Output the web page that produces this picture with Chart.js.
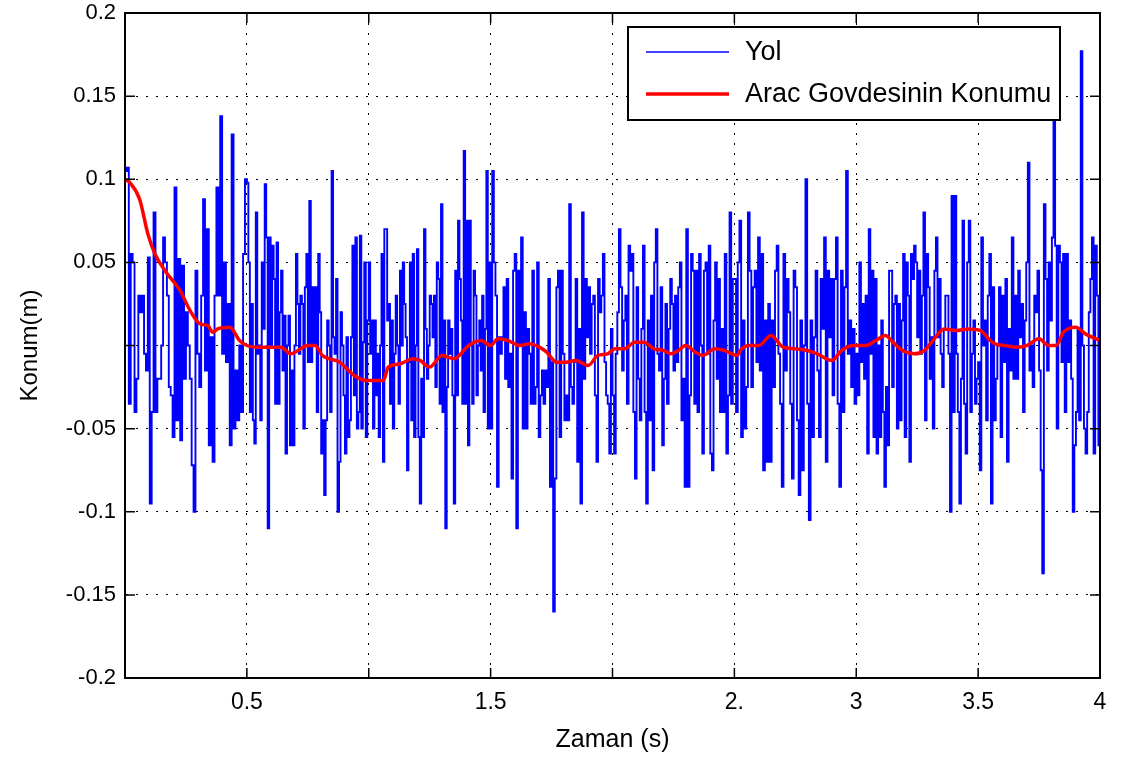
<!DOCTYPE html>
<html>
<head>
<meta charset="utf-8">
<script src="https://cdn.jsdelivr.net/npm/chart.js@4.4.1/dist/chart.umd.min.js"></script>
<style>
  body { margin: 0; background: #fff; }
  #wrap { width: 1142px; height: 764px; position: relative; }
</style>
</head>
<body>
<div id="wrap"><canvas id="myChart"></canvas></div>
<script>
// Yol (road) signal in half-second pieces
const yolSeg1 = [0.105, 0.107, -0.035, 0.055, 0.05, -0.04, -0.02, 0.03, 0.02, 0.03, -0.005, -0.015, 0.053, -0.095, -0.04, 0.08, -0.04, -0.02, -0.02, 0.0, 0.065, 0.05, 0.03, -0.025, -0.03, -0.055, 0.095, -0.045, 0.052, -0.057, 0.048, -0.02, 0.02, 0.0, -0.02, -0.072, -0.1, 0.045, -0.005, -0.025, 0.03, 0.088, -0.015, 0.07, -0.06, 0.005, -0.07, 0.03, 0.095, 0.03, 0.138, -0.005, 0.05, -0.01, 0.025, -0.06, 0.127, -0.05, -0.015, -0.045, 0.0, -0.04, 0.055, 0.1];
const yolSeg2 = [0.098, 0.05, -0.04, 0.025, -0.045, -0.059, 0.08, -0.005, 0.0, -0.045, 0.05, 0.01, 0.097, 0.065, -0.11, 0.065, 0.0, 0.06, 0.04, -0.035, 0.062, -0.035, 0.02, 0.045, -0.015, 0.018, -0.065, 0.0, 0.018, -0.06, -0.015, -0.06, 0.0, 0.055, 0.025, -0.005, 0.03, 0.025, -0.05, 0.035, 0.055, -0.01, 0.087, -0.01, 0.035, 0.0, 0.035, -0.04, 0.055, 0.02, -0.065, -0.045, -0.09, -0.045, 0.015, 0.0, -0.04, 0.105, 0.005, -0.005, 0.04, -0.1, -0.07, 0.02, 0.0, -0.03, -0.065, 0.005, -0.055, -0.045, 0.005, 0.06, -0.03, 0.065, -0.05, -0.04, 0.066, -0.05, 0.002, 0.05, -0.055, 0.015];
const yolSeg3 = [0.05, -0.005, 0.015, -0.05, 0.015, -0.03, -0.005, -0.055, 0.0, 0.055, -0.07, 0.07, 0.07, 0.015, 0.025, -0.035, 0.015, -0.05, -0.005, 0.03, 0.0, -0.035, 0.045, 0.0, 0.05, 0.025, 0.005, -0.075, -0.01, 0.05, -0.045, 0.055, -0.055, 0.0, 0.058, -0.055, -0.095, -0.02, -0.055, 0.07, 0.01, -0.02, 0.0, 0.03, 0.025, 0.005, 0.03, -0.025, 0.05, 0.04, -0.035, 0.085, -0.04, 0.015, -0.11, -0.025, 0.015, -0.005, 0.01, -0.03, -0.095, 0.045, -0.03, 0.075, 0.04, 0.015, -0.035, 0.117, -0.035, 0.075, -0.06, 0.075, 0.0, -0.035, 0.045, 0.03, -0.03, 0.0, 0.015, -0.015, 0.03, -0.04, 0.01, 0.105, -0.05, 0.05];
const yolSeg4 = [-0.05, 0.105, 0.05, 0.03, -0.085, 0.005, -0.005, 0.005, 0.035, -0.02, 0.04, -0.025, -0.005, -0.08, 0.045, 0.055, -0.11, 0.045, 0.0, 0.065, -0.05, 0.02, -0.05, 0.01, -0.005, -0.035, 0.045, -0.035, -0.025, 0.05, -0.055, -0.03, -0.015, -0.035, -0.015, -0.025, 0.04, -0.085, -0.01, -0.16, -0.08, 0.035, 0.045, -0.055, 0.045, -0.005, -0.045, -0.03, -0.045, 0.085, -0.025, -0.035, -0.01, 0.04, -0.07, 0.01, -0.095, 0.08, -0.02, 0.04, 0.005, 0.035, -0.005, 0.025, 0.03, -0.03, -0.07, 0.04, 0.02, 0.03, 0.055, -0.01, -0.03, -0.035, -0.065, 0.01];
const yolSeg5 = [-0.03, -0.065, -0.005, 0.02, 0.07, 0.035, -0.015, 0.015, 0.03, -0.035, 0.06, 0.045, 0.055, -0.04, -0.08, 0.035, -0.02, -0.045, 0.01, 0.06, -0.04, -0.095, 0.015, -0.045, 0.03, -0.075, 0.05, 0.07, -0.005, -0.015, 0.035, -0.06, -0.02, 0.025, -0.035, 0.01, 0.04, 0.025, -0.015, 0.03, -0.01, 0.035, 0.05, -0.045, -0.02, -0.085, 0.07, -0.085, -0.03, 0.055, 0.045, -0.035, 0.045, -0.04, 0.055, 0.0, -0.065, 0.045, 0.05, -0.005, 0.06, -0.065, -0.075, 0.015, 0.05, -0.02, 0.04, -0.04, 0.01, -0.04, 0.055, -0.065, -0.03, 0.08, -0.035, 0.04];
const yolSeg6 = [0.04, -0.04, 0.05, 0.075, -0.055, 0.015, -0.05, -0.025, 0.08, 0.045, -0.025, 0.035, 0.045, -0.01, 0.065, -0.015, 0.055, -0.075, 0.015, -0.07, 0.025, -0.07, 0.015, -0.025, 0.045, 0.06, -0.005, -0.035, -0.085, 0.055, -0.015, 0.04, 0.02, -0.035, -0.08, 0.045, 0.035, -0.045, -0.09, 0.015, -0.075, 0.0, 0.1, -0.035, -0.105, 0.015, -0.055, 0.005, 0.045, -0.015, -0.055, 0.04, 0.01, 0.065, -0.07, 0.045, 0.005, 0.04, -0.03, 0.04, 0.065, -0.035, -0.085, 0.045, -0.04, 0.035, 0.105, -0.005, 0.015, -0.025, 0.01, -0.035];
const yolSeg7 = [-0.005, -0.03, 0.05, -0.01, 0.025, -0.02, 0.03, -0.065, 0.07, -0.005, 0.045, -0.055, 0.04, -0.065, 0.0, -0.055, 0.015, -0.04, -0.085, -0.025, -0.06, 0.045, 0.045, -0.025, 0.025, 0.03, -0.05, 0.025, -0.045, 0.015, 0.055, -0.055, 0.05, 0.03, -0.07, 0.055, 0.04, 0.06, 0.05, 0.005, 0.045, -0.005, 0.03, 0.08, -0.045, 0.055, 0.035, -0.02, 0.005, -0.05, 0.045, 0.065, 0.005, 0.04, -0.005, -0.025, 0.01, 0.03, 0.03, -0.005, -0.1, 0.09, -0.04, 0.09, -0.005, -0.04, -0.095, -0.02, 0.075, -0.035, -0.065, 0.05, 0.075, -0.04, -0.005, 0.015, -0.035, -0.02];
const yolSeg8 = [-0.01, -0.075, 0.065, 0.0, 0.015, -0.045, 0.03, 0.055, -0.095, 0.035, -0.045, -0.02, 0.0, 0.035, -0.055, 0.03, -0.01, 0.04, -0.07, 0.01, -0.015, 0.065, -0.02, 0.03, -0.02, 0.045, 0.005, 0.025, -0.04, 0.015, 0.05, 0.11, -0.015, 0.0, -0.025, 0.03, 0.02, 0.045, -0.015, -0.075, -0.137, 0.085, 0.04, -0.015, 0.05, 0.015, 0.065, 0.16, 0.06, -0.05, 0.06, 0.05, -0.01, 0.055, -0.04, 0.055, -0.01, 0.015, -0.02, -0.1, -0.06, -0.04, 0.01, -0.045, 0.177, 0.0, -0.05, -0.065, -0.04, 0.02, 0.04, 0.065, -0.065, 0.06, 0.03, -0.06];
const segDuration = 0.5;

// Arac Govdesinin Konumu (body position)
const govdeTime = [0, 0.02, 0.06, 0.094, 0.123, 0.164, 0.226, 0.267, 0.308, 0.34, 0.36, 0.38, 0.43, 0.47, 0.5, 0.55, 0.6, 0.64, 0.68, 0.75, 0.78, 0.81, 0.88, 0.94, 0.99, 1.06, 1.08, 1.13, 1.18, 1.21, 1.25, 1.3, 1.35, 1.41, 1.46, 1.5, 1.53, 1.57, 1.62, 1.66, 1.7, 1.73, 1.77, 1.81, 1.85, 1.9, 1.94, 1.98, 2.01, 2.05, 2.09, 2.13, 2.17, 2.21, 2.24, 2.27, 2.3, 2.34, 2.37, 2.42, 2.46, 2.51, 2.53, 2.56, 2.6, 2.65, 2.7, 2.75, 2.8, 2.84, 2.9, 2.94, 2.99, 3.04, 3.08, 3.12, 3.15, 3.19, 3.24, 3.28, 3.32, 3.36, 3.41, 3.46, 3.51, 3.55, 3.57, 3.61, 3.66, 3.7, 3.75, 3.79, 3.82, 3.85, 3.9, 3.94, 4.0];
const govdeValue = [0.1, 0.098, 0.088, 0.067, 0.055, 0.045, 0.033, 0.021, 0.013, 0.012, 0.008, 0.01, 0.011, 0.003, 0.0, -0.001, -0.001, -0.001, -0.005, 0.0, 0.0, -0.006, -0.01, -0.018, -0.021, -0.021, -0.013, -0.011, -0.008, -0.009, -0.013, -0.006, -0.008, 0.0, 0.003, 0.0, 0.004, 0.003, 0.0, 0.001, -0.001, -0.004, -0.01, -0.01, -0.009, -0.012, -0.006, -0.005, -0.002, -0.002, 0.002, 0.002, -0.002, -0.003, -0.005, -0.003, 0.0, -0.004, -0.006, -0.002, -0.003, -0.006, -0.002, 0.0, 0.0, 0.006, -0.001, -0.002, -0.003, -0.005, -0.009, -0.003, 0.0, 0.0, 0.003, 0.006, 0.002, -0.003, -0.005, -0.003, 0.004, 0.01, 0.009, 0.01, 0.009, 0.003, 0.001, 0.0, -0.001, 0.0, 0.004, 0.0, 0.0, 0.008, 0.011, 0.007, 0.003];

const xTickLabels = ["", "0.5", "", "1.5", "", "2.", "3", "3.5", "4"];
const yTickLabels = ["-0.2", "-0.15", "-0.1", "-0.05", "", "0.05", "0.1", "0.15", "0.2"];
const seriesNames = ["Yol", "Arac Govdesinin Konumu"];
const seriesColors = ["#0000ff", "#ff0000"];

const FONT = '"Liberation Sans", Arial, sans-serif';

const yolPoints = [];
[yolSeg1, yolSeg2, yolSeg3, yolSeg4, yolSeg5, yolSeg6, yolSeg7, yolSeg8].forEach((seg, k) => {
  seg.forEach((v, i) => {
    yolPoints.push({ x: k * segDuration + (i * segDuration) / seg.length, y: v });
  });
});
yolPoints.push({ x: 4, y: yolSeg8[yolSeg8.length - 1] });

const govdePoints = govdeTime.map((t, i) => ({ x: t, y: govdeValue[i] }));

// box, inward ticks and the opaque legend, like the matlab figure
const matlabFrame = {
  id: "matlabFrame",
  afterDatasetsDraw(chart) {
    const { ctx, chartArea: a, scales } = chart;
    ctx.save();
    ctx.strokeStyle = "#000";
    ctx.lineWidth = 1.5;
    ctx.beginPath();
    scales.x.ticks.forEach((t) => {
      const px = scales.x.getPixelForValue(t.value);
      ctx.moveTo(px, a.bottom);
      ctx.lineTo(px, a.bottom - 10);
      ctx.moveTo(px, a.top);
      ctx.lineTo(px, a.top + 10);
    });
    scales.y.ticks.forEach((t) => {
      const py = scales.y.getPixelForValue(t.value);
      ctx.moveTo(a.left, py);
      ctx.lineTo(a.left + 10, py);
      ctx.moveTo(a.right, py);
      ctx.lineTo(a.right - 10, py);
    });
    ctx.stroke();
    ctx.lineWidth = 2;
    ctx.strokeRect(a.left, a.top, a.right - a.left, a.bottom - a.top);

    // legend
    const lx = a.right - 472;
    const ly = a.top + 14;
    const lw = 432;
    const lh = 93;
    ctx.fillStyle = "#fff";
    ctx.fillRect(lx, ly, lw, lh);
    ctx.strokeRect(lx, ly, lw, lh);
    ctx.font = "27px " + FONT;
    ctx.textBaseline = "middle";
    ctx.fillStyle = "#000";
    seriesNames.forEach((name, i) => {
      const rowY = ly + 25 + i * 42;
      ctx.strokeStyle = seriesColors[i];
      ctx.lineWidth = i === 0 ? 1.5 : 3.5;
      ctx.beginPath();
      ctx.moveTo(lx + 18, rowY);
      ctx.lineTo(lx + 101, rowY);
      ctx.stroke();
      ctx.fillText(name, lx + 117, rowY + 1);
    });
    ctx.restore();
  },
};

const myChart = document.getElementById("myChart").getContext("2d");
const konumChart = new Chart(myChart, {
  type: "line",
  data: {
    datasets: [
      {
        label: seriesNames[0],
        data: yolPoints,
        borderColor: seriesColors[0],
        borderWidth: 1.9,
        pointRadius: 0,
        stepped: true,
        order: 1,
      },
      {
        label: seriesNames[1],
        data: govdePoints,
        borderColor: seriesColors[1],
        borderWidth: 3.5,
        pointRadius: 0,
        cubicInterpolationMode: "monotone",
        order: 0,
      },
    ],
  },
  options: {
    responsive: true,
    maintainAspectRatio: false,
    animation: false,
    events: [],
    layout: { padding: { top: 13, right: 42, left: 0, bottom: 0 } },
    plugins: {
      legend: { display: false },
      tooltip: { enabled: false },
    },
    scales: {
      x: {
        type: "linear",
        min: 0,
        max: 4,
        afterFit: (scale) => { scale.height = 86; },
        ticks: {
          stepSize: 0.5,
          autoSkip: false,
          maxRotation: 0,
          padding: 11,
          color: "#000",
          font: { family: FONT, size: 23 },
          callback: (value, index) => xTickLabels[index],
        },
        grid: { color: "#000", lineWidth: 1, drawTicks: false },
        border: { display: true, color: "#000", width: 2, dash: [2, 8] },
        title: {
          display: true,
          text: "Zaman (s)",
          color: "#000",
          font: { family: FONT, size: 25 },
          padding: { top: 0, bottom: 9 },
        },
      },
      y: {
        min: -0.2,
        max: 0.2,
        afterFit: (scale) => {
          scale.width = 125;
          scale.paddingTop = 0;
          scale.paddingBottom = 0;
        },
        ticks: {
          stepSize: 0.05,
          autoSkip: false,
          padding: 9,
          color: "#000",
          font: { family: FONT, size: 22 },
          callback: (value, index) => yTickLabels[index],
        },
        grid: { color: "#000", lineWidth: 1, drawTicks: false },
        border: { display: true, color: "#000", width: 2, dash: [2, 8] },
        title: {
          display: true,
          text: "Konum(m)",
          color: "#000",
          font: { family: FONT, size: 24 },
          padding: { top: 16, bottom: 0 },
        },
      },
    },
  },
  plugins: [matlabFrame],
});
</script>
</body>
</html>
